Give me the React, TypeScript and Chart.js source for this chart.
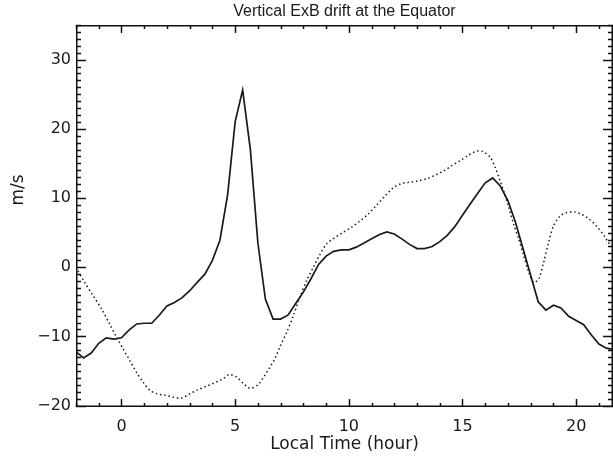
import React, { useEffect, useRef } from "react";
import { Chart, registerables } from "chart.js";

Chart.register(...registerables);

const titleText = "Vertical ExB drift at the Equator";
const xTitle = "Local Time (hour)";
const yTitle = "m/s";
const xTickValues = [0, 5, 10, 15, 20];
const yTickValues = [-20, -10, 0, 10, 20, 30];
const xRange = [-2, 21.62];
const yRange = [-20.2, 35];

const solidX = [
  -2.0, -1.67, -1.33, -1.0, -0.67, -0.33, 0.0, 0.33, 0.67, 1.0, 1.33, 1.67, 2.0, 2.33, 2.67, 3.0, 3.33, 3.67,
  4.0, 4.33, 4.67, 5.0, 5.33, 5.67, 6.0, 6.33, 6.67, 7.0, 7.33, 7.67, 8.0, 8.33, 8.67, 9.0, 9.33, 9.67, 10.0,
  10.33, 10.67, 11.0, 11.33, 11.67, 12.0, 12.33, 12.67, 13.0, 13.33, 13.67, 14.0, 14.33, 14.67, 15.0, 15.33,
  15.67, 16.0, 16.33, 16.67, 17.0, 17.33, 17.67, 18.0, 18.33, 18.67, 19.0, 19.33, 19.67, 20.0, 20.33, 20.67,
  21.0, 21.33, 21.67,
];
const solidY = [
  -12.2, -13.1, -12.4, -11.0, -10.2, -10.4, -10.2, -9.1, -8.2, -8.1, -8.1, -6.9, -5.6, -5.1, -4.4, -3.4, -2.2, -1.0,
  1.0, 3.9, 10.5, 21.0, 25.6, 17.0, 3.5, -4.6, -7.5, -7.5, -6.9, -5.2, -3.6, -1.7, 0.4, 1.6, 2.3, 2.5, 2.5,
  2.9, 3.5, 4.1, 4.7, 5.1, 4.8, 4.1, 3.3, 2.7, 2.7, 3.0, 3.7, 4.6, 5.9, 7.5, 9.1,
  10.7, 12.2, 12.9, 11.7, 9.6, 6.5, 2.6, -1.2, -5.0, -6.2, -5.5, -5.9, -7.1, -7.7, -8.3, -9.8,
  -11.1, -11.7, -11.9,
];

const dottedX = [
  -2.0, -1.62, -1.25, -0.88, -0.52, -0.22, 0.07, 0.37, 0.66, 0.95, 1.25, 1.57, 1.91, 2.27, 2.64, 3.0, 3.37, 3.74,
  4.11, 4.48, 4.74, 5.07, 5.36, 5.65, 6.0, 6.25, 6.5, 6.75, 6.97, 7.27, 7.56, 7.85, 8.15, 8.44, 8.74, 9.03, 9.4,
  9.76, 10.13, 10.5, 10.86, 11.23, 11.6, 11.96, 12.33, 12.7, 13.07, 13.44, 13.8, 14.17, 14.54, 14.9, 15.27,
  15.64, 15.9, 16.22, 16.44, 16.63, 16.81, 17.03, 17.25, 17.47, 17.69, 17.91, 18.13, 18.35, 18.57, 18.79,
  19.01, 19.31, 19.6, 19.9, 20.19, 20.56, 20.93, 21.22, 21.44, 21.62,
];
const dottedY = [
  0.0, -2.2, -4.1, -6.0, -8.2, -10.1, -11.8, -13.5, -15.2, -16.6, -17.8, -18.3, -18.5, -18.8, -18.9, -18.3, -17.7, -17.2,
  -16.7, -16.1, -15.5, -15.9, -16.8, -17.5, -17.0, -15.9, -14.6, -13.2, -11.5, -9.4, -7.0, -4.3, -1.9, 0.0, 1.9, 3.4, 4.3,
  5.05, 5.8, 6.7, 7.7, 9.0, 10.3, 11.5, 12.1, 12.3, 12.5, 12.8, 13.3, 13.9, 14.7, 15.4, 16.2,
  16.8, 16.7, 15.9, 14.4, 12.7, 11.0, 8.7, 6.2, 4.1, 1.7, -0.7, -2.2, -1.7, 0.7, 3.6,
  6.0, 7.45, 7.9, 8.0, 7.7, 7.0, 5.8, 4.6, 3.5, 2.9,
];

const TICK_FONT = "'DejaVu Sans', sans-serif";
const INK = "#1a1a1a";
const AXIS_W = 1.5;

const framePlugin = {
  id: "idlFrame",
  afterDraw(chart: any) {
    const { ctx, chartArea: a, scales } = chart;
    const xs = scales.x;
    const ys = scales.y;
    const L = Math.round(a.left);
    const R = Math.round(a.right);
    const T = Math.round(a.top);
    const B = Math.round(a.bottom);
    ctx.save();
    ctx.fillStyle = "#111";
    ctx.fillRect(L, T, R - L, AXIS_W);
    ctx.fillRect(L, B - AXIS_W, R - L, AXIS_W);
    ctx.fillRect(L, T, AXIS_W, B - T);
    ctx.fillRect(R - AXIS_W, T, AXIS_W, B - T);
    for (let v = Math.ceil(xs.min); v <= xs.max; v++) {
      const len = v % 5 === 0 ? 8 : 4;
      const px = Math.round(xs.getPixelForValue(v));
      ctx.fillRect(px - 0.25, B - len, AXIS_W, len);
      ctx.fillRect(px - 0.25, T, AXIS_W, len);
    }
    for (let v = Math.ceil(ys.min); v <= ys.max; v++) {
      const len = v % 10 === 0 ? 10 : 5;
      const py = Math.round(ys.getPixelForValue(v));
      ctx.fillRect(L, py - 0.25, len, AXIS_W);
      ctx.fillRect(R - len, py - 0.25, len, AXIS_W);
    }

    ctx.fillStyle = INK;
    ctx.textAlign = "center";
    ctx.textBaseline = "middle";
    ctx.font = "16px 'Liberation Sans', Arial, sans-serif";
    ctx.fillText(titleText, (a.left + a.right) / 2, 12);

    ctx.font = "17px " + TICK_FONT;
    ctx.fillText(xTitle, (a.left + a.right) / 2, 445);

    ctx.translate(19, 190);
    ctx.rotate(-Math.PI / 2);
    ctx.fillText(yTitle, 0, 0);
    ctx.restore();
  },
};

export default function App() {
  const ref = useRef<HTMLCanvasElement | null>(null);

  useEffect(() => {
    document.body.style.margin = "0";
    const canvas = ref.current;
    if (!canvas) return;
    const chart = new Chart(canvas, {
      type: "line",
      data: {
        datasets: [
          {
            data: solidX.map((x, i) => ({ x, y: solidY[i] })),
            borderColor: INK,
            borderWidth: 1.7,
            pointRadius: 0,
            tension: 0,
            fill: false,
          },
          {
            data: dottedX.map((x, i) => ({ x, y: dottedY[i] })),
            borderColor: INK,
            borderWidth: 1.5,
            borderDash: [1.5, 2.8],
            pointRadius: 0,
            tension: 0.3,
            fill: false,
          },
        ],
      },
      options: {
        animation: false,
        responsive: false,
        events: [],
        layout: { padding: { top: 25, right: 0, left: 0, bottom: 0 } },
        plugins: {
          legend: { display: false },
          title: { display: false },
          tooltip: { enabled: false },
        },
        scales: {
          x: {
            type: "linear",
            position: "bottom",
            min: xRange[0],
            max: xRange[1],
            grid: { display: false, drawTicks: false },
            border: { display: false },
            afterBuildTicks: (s: any) => {
              s.ticks = xTickValues.map((value) => ({ value }));
            },
            afterFit: (s: any) => {
              s.height = 51;
            },
            ticks: {
              autoSkip: false,
              maxRotation: 0,
              padding: 10,
              color: INK,
              font: { family: TICK_FONT, size: 16 },
              callback: (v: any) => String(v).replace("-", "\u2212"),
            },
          },
          y: {
            type: "linear",
            position: "left",
            min: yRange[0],
            max: yRange[1],
            grid: { display: false, drawTicks: false },
            border: { display: false },
            afterBuildTicks: (s: any) => {
              s.ticks = yTickValues.map((value) => ({ value }));
            },
            afterFit: (s: any) => {
              s.width = 76;
            },
            ticks: {
              autoSkip: false,
              padding: 5,
              color: INK,
              font: { family: TICK_FONT, size: 16 },
              callback: (v: any) => String(v).replace("-", "\u2212"),
            },
          },
        },
      },
      plugins: [framePlugin],
    });
    return () => chart.destroy();
  }, []);

  return (
    <div style={{ width: 613, height: 458 }}>
      <canvas ref={ref} width={613} height={458} />
    </div>
  );
}
